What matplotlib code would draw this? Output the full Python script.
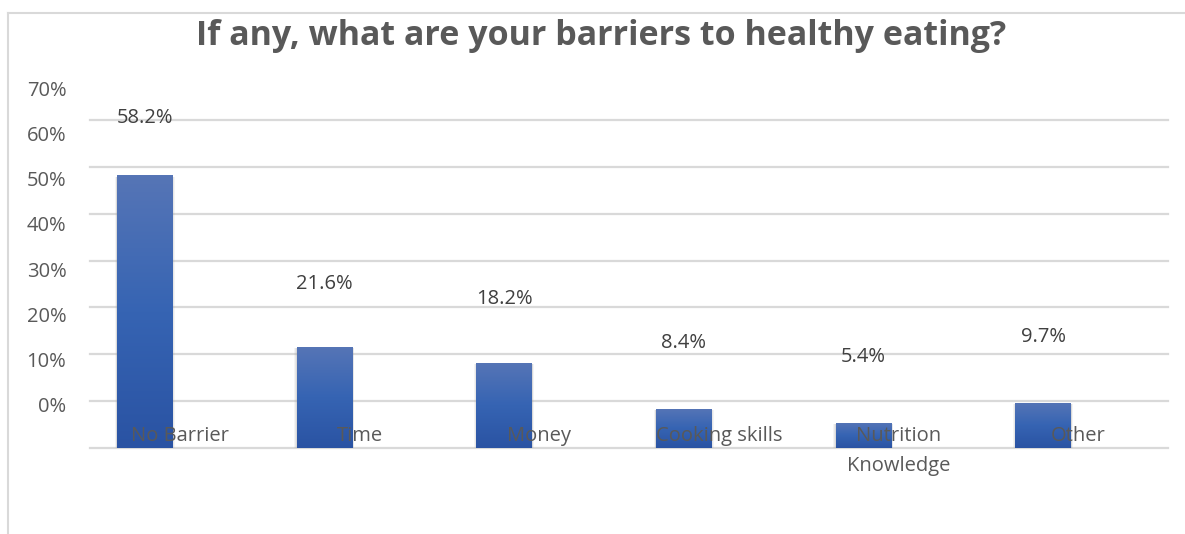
import matplotlib.pyplot as plt
import numpy as np
from matplotlib.colors import LinearSegmentedColormap
from matplotlib.lines import Line2D
from matplotlib.transforms import blended_transform_factory

# ---------- data ----------
categories = ['No Barrier', 'Time', 'Money', 'Cooking skills', 'Nutrition\nKnowledge', 'Other']
values = [58.2, 21.6, 18.2, 8.4, 5.4, 9.7]
tick_values = [0, 10, 20, 30, 40, 50, 60, 70]
tick_labels = ['0%', '10%', '20%', '30%', '40%', '50%', '60%', '70%']

W, H = 1185, 534
fig = plt.figure(figsize=(W / 100, H / 100), dpi=100)
fig.patch.set_facecolor('white')

GRID = '#d9d9d9'
TXT = '#595959'
FONT = 'Open Sans'
FS = 14.5

# ---------- main plot area ----------
ax = fig.add_axes([90 / W, (H - 448) / H, (1168 - 90) / W, (448 - 120) / H])
for s in ax.spines.values():
    s.set_visible(False)
ax.set_xticks([])
ax.set_yticks(tick_values)
ax.tick_params(axis='y', length=0, labelleft=False)
ax.yaxis.grid(True, color=GRID, linewidth=1.6)
ax.set_axisbelow(True)

# bars with vertical gradient
cmap = LinearSegmentedColormap.from_list('bar', ['#2a53a3', '#3664b3', '#5675b6'])
grad = np.linspace(0, 1, 256).reshape(-1, 1)
x = np.arange(len(categories)) - 0.195
bw = 0.31
bars = ax.bar(x, values, width=bw, color='none', zorder=3)
for b in bars:
    x0, w, h = b.get_x(), b.get_width(), b.get_height()
    # soft shadow around the bar
    for k, a in [(0.024, 0.10), (0.014, 0.14), (0.006, 0.18)]:
        ax.bar(x0 + w / 2, h + 0.3, width=w + k, bottom=-0.6, color='#9a9a9a',
               alpha=a, zorder=2, linewidth=0)
    im = ax.imshow(grad, extent=[x0, x0 + w, 0, h], origin='lower', cmap=cmap,
                   aspect='auto', zorder=3)
    im.set_clip_path(b)
ax.set_xlim(-0.5, len(categories) - 0.5)
ax.set_ylim(0, 70)
for gl in ax.get_ygridlines():
    gl.set_clip_on(False)

# category labels sit inside the plot near the baseline
for i, c in enumerate(categories):
    ax.text(i, 4.6, c, ha='center', va='top', fontsize=FS, color=TXT,
            family=FONT, linespacing=1.65, zorder=4)

# ---------- y tick labels (own scale, offset from the gridlines) ----------
ax_lab = fig.add_axes([90 / W, (H - 405) / H, 0.001, (405 - 88) / H])
ax_lab.set_ylim(0, 70)
ax_lab.set_yticks(tick_values)
ax_lab.set_yticklabels(tick_labels, fontsize=FS, color=TXT, family=FONT)
ax_lab.tick_params(axis='y', length=0, pad=17)
ax_lab.set_xticks([])
ax_lab.patch.set_visible(False)
for s in ax_lab.spines.values():
    s.set_visible(False)

# value labels follow the tick-label scale
trans = blended_transform_factory(ax.transData, ax_lab.transData)
for xi, v in zip(x, values):
    ax.annotate(f'{v:.1f}%', xy=(xi, v), xycoords=trans, xytext=(0, 17),
                textcoords='offset points', ha='center', va='center',
                fontsize=FS, color='#404040', family=FONT)

# ---------- title ----------
fig.text(601 / W, 1 - 45 / H, 'If any, what are your barriers to healthy eating?',
         ha='center', va='baseline', fontsize=24.5, fontweight='bold', color=TXT,
         family=FONT)

# chart frame
fig.add_artist(Line2D([8 / W, 1], [1 - 13 / H, 1 - 13 / H], color=GRID, linewidth=1.5))
fig.add_artist(Line2D([8 / W, 8 / W], [0, 1 - 13 / H], color=GRID, linewidth=1.5))

fig.savefig('out.png', dpi=100)
